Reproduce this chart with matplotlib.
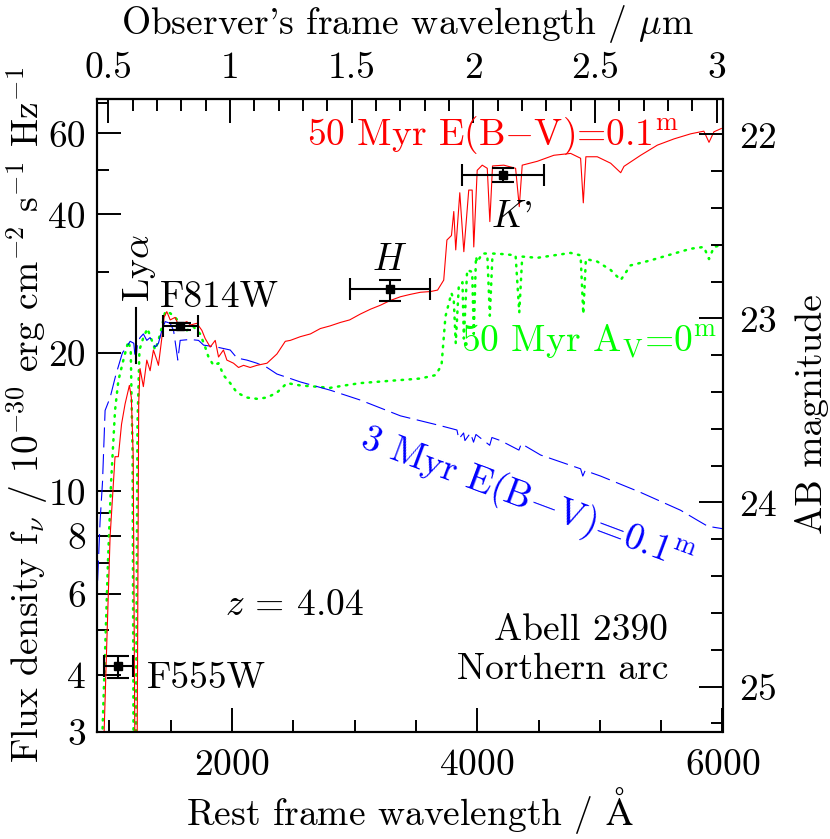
import numpy as np
import matplotlib
matplotlib.use('Agg')
import matplotlib.pyplot as plt
from matplotlib.ticker import FixedLocator, NullFormatter, FixedFormatter

plt.rcParams['font.family'] = ['cmr10', 'DejaVu Serif']
plt.rcParams['mathtext.fontset'] = 'cm'
plt.rcParams['axes.unicode_minus'] = False
plt.rcParams['axes.formatter.use_mathtext'] = True

Z = 4.04
AB_ZP = 26.44  # AB = AB_ZP - 2.5 log10(f / 1e-30 cgs)

# ---- model spectra (rest wavelength [A], flux density [1e-30 erg/cm2/s/Hz]) ----
red_wl = [925, 958, 980, 1007, 1047, 1074, 1100, 1129, 1164, 1180, 1195, 1212, 1225,
          1240, 1251, 1278, 1306, 1333, 1360, 1388, 1401, 1429, 1447, 1469, 1497, 1537,
          1564, 1633, 1660, 1714, 1755, 1782, 1823, 1864, 1891, 1931, 1959, 2013, 2054,
          2095, 2149, 2204, 2286, 2367, 2435, 2476, 2558, 2640, 2721, 2800, 2884, 2960,
          3047, 3130, 3211, 3290, 3374, 3450, 3537, 3620, 3677, 3727, 3753, 3790, 3809,
          3825, 3858, 3891, 3931, 3959, 3972, 4000, 4041, 4082, 4103, 4125, 4217, 4313,
          4343, 4367, 4490, 4625, 4762, 4843, 4865, 4886, 4979, 5088, 5170, 5197, 5333,
          5469, 5605, 5741, 5848, 5890, 5930, 5990]
red_f = [2.5, 3.0, 4.7, 8.0, 11.9, 11.9, 14.0, 15.5, 17.0, 16.0, 12.0, 2.0, 2.0,
         15.5, 18.5, 16.9, 19.3, 18.3, 20.3, 19.3, 18.8, 21.6, 23.9, 24.6, 23.6, 23.9,
         23.0, 23.4, 23.0, 23.2, 22.4, 21.5, 20.6, 21.3, 19.6, 20.3, 19.3, 19.0, 18.6,
         18.8, 18.6, 18.8, 19.0, 19.9, 21.2, 21.3, 21.7, 22.0, 22.6, 22.9, 23.3, 23.6,
         24.3, 24.9, 25.4, 26.0, 26.5, 26.8, 27.1, 27.2, 27.4, 28.8, 35.2, 36.0, 40.6,
         33.5, 44.6, 33.2, 45.2, 45.2, 34.0, 49.9, 51.2, 50.4, 38.6, 51.0, 51.2, 50.4,
         41.6, 51.2, 52.2, 53.8, 54.3, 53.0, 42.4, 53.4, 53.4, 51.7, 49.3, 50.9, 53.8,
         56.6, 58.4, 59.9, 60.7, 57.4, 60.5, 61.5]

green_wl = [935, 966, 990, 1015, 1047, 1074, 1115, 1155, 1175, 1190, 1200, 1215, 1230,
            1246, 1278, 1311, 1347, 1374, 1401, 1429, 1456, 1497, 1537, 1578, 1633, 1687,
            1741, 1782, 1809, 1850, 1891, 1931, 1986, 2041, 2122, 2204, 2286, 2367, 2449,
            2558, 2680, 2802, 2920, 3047, 3170, 3292, 3420, 3537, 3660, 3709, 3741, 3790,
            3809, 3825, 3850, 3880, 3891, 3918, 3959, 3972, 3990, 4000, 4041, 4082, 4103,
            4125, 4217, 4313, 4343, 4367, 4490, 4625, 4762, 4843, 4865, 4886, 4979, 5088,
            5170, 5250, 5415, 5605, 5741, 5848, 5890, 5930, 5990]
green_f = [2.5, 4.5, 7.1, 10.5, 15.0, 17.4, 19.3, 21.2, 20.3, 12.0, 2.0, 2.0, 14.0,
           20.3, 21.6, 22.6, 21.3, 20.3, 21.3, 22.8, 24.6, 24.4, 23.9, 23.2, 22.4, 22.8,
           22.0, 20.6, 19.6, 18.8, 19.0, 17.9, 17.2, 16.4, 16.0, 15.9, 16.0, 16.4, 17.2,
           17.0, 16.9, 16.8, 17.0, 17.2, 17.3, 17.4, 17.5, 17.6, 17.9, 18.8, 24.0, 27.0,
           26.0, 21.0, 28.0, 28.5, 21.5, 30.3, 30.0, 22.0, 32.4, 31.5, 32.9, 32.9, 24.1,
           32.9, 32.8, 32.6, 24.5, 32.4, 32.2, 32.6, 33.0, 32.6, 24.3, 32.0, 31.6, 30.3,
           28.8, 31.0, 31.8, 32.9, 33.7, 34.0, 32.0, 34.0, 34.3]

blue_wl = [905, 925, 945, 966, 1007, 1053, 1107, 1135, 1170, 1200, 1215, 1230, 1251,
           1278, 1306, 1333, 1374, 1401, 1429, 1456, 1497, 1524, 1545, 1559, 1578, 1660,
           1728, 1769, 1877, 1986, 2041, 2122, 2204, 2286, 2367, 2476, 2558, 2802, 3047,
           3374, 3700, 3835, 3850, 3889, 3900, 3945, 3970, 3990, 4102, 4120, 4190, 4340,
           4360, 4517, 4843, 4861, 4880, 5006, 5333, 5659, 5782, 5880, 6000]
blue_f = [6.4, 8.6, 10.5, 15.0, 16.0, 17.9, 20.0, 20.5, 21.2, 21.0, 19.0, 21.0, 21.6,
          22.0, 21.3, 21.6, 20.6, 21.0, 22.4, 23.4, 23.2, 22.4, 20.5, 19.3, 21.3, 21.4,
          21.3, 20.8, 20.6, 20.3, 19.5, 19.3, 19.0, 18.6, 18.0, 17.6, 17.3, 16.6, 15.8,
          14.6, 13.9, 13.6, 13.0, 13.4, 12.9, 13.4, 12.8, 13.3, 12.6, 13.1, 12.9, 12.3,
          12.7, 12.0, 11.2, 10.8, 11.1, 10.8, 9.95, 9.1, 8.7, 8.4, 8.3]

# ---- photometry ----
phot_names = ['F555W', 'F814W', 'H', "K'"]
phot_wl = [1074, 1580, 3289, 4211]
phot_wl_err = [120, 145, 330, 335]
phot_f = [4.17, 22.9, 27.5, 48.8]
phot_f_lo = [0.23, 0.5, 1.5, 1.7]
phot_f_hi = [0.22, 0.3, 1.3, 1.7]

lya_wl = 1216
lya_f = [19.0, 25.0]

xlim = (900, 6000)
ylim = (3.0, 71.3)
x_major = [2000, 4000, 6000]
x_minor = [1000, 1500, 2500, 3000, 3500, 4500, 5000, 5500]
y_major = [3, 4, 6, 8, 10, 20, 40, 60]
y_major_lbl = ['3', '4', '6', '8', '10', '20', '40', '60']
y_minor = [5, 7, 9, 30, 50, 70]
top_major = [0.5, 1, 1.5, 2, 2.5, 3]
top_major_lbl = ['0.5', '1', '1.5', '2', '2.5', '3']
top_minor = [round(0.5 + 0.1 * i, 2) for i in range(26)]
mag_major = [22, 23, 24, 25]
mag_minor = [round(21.8 + 0.2 * i, 1) for i in range(18)]

FS = 27
DPI = 100
W, H = 830, 839
fig = plt.figure(figsize=(W / DPI, H / DPI), dpi=DPI)
ax = fig.add_axes([97 / W, 1 - 732 / H, 625.5 / W, 633 / H])

ax.plot(red_wl, red_f, color='#ff0000', lw=0.8, zorder=3)
ax.plot(green_wl, green_f, color='#00ff00', lw=1.8, ls=(0, (0.6, 2.6)),
        dash_capstyle='round', zorder=2)
ax.plot(blue_wl, blue_f, color='#0000ff', lw=0.8, ls=(0, (18, 6)), zorder=2)

ax.errorbar(phot_wl, phot_f, xerr=phot_wl_err, yerr=[phot_f_lo, phot_f_hi],
            fmt='s', color='black', ms=6, elinewidth=1.5, capsize=8, capthick=1.5,
            zorder=5)
ax.plot([lya_wl, lya_wl], lya_f, color='black', lw=1.5, zorder=4)

ax.set_xscale('linear')
ax.set_yscale('log')
ax.set_xlim(*xlim)
ax.set_ylim(*ylim)

ax.xaxis.set_major_locator(FixedLocator(x_major))
ax.xaxis.set_minor_locator(FixedLocator(x_minor))
ax.xaxis.set_minor_formatter(NullFormatter())
ax.yaxis.set_major_locator(FixedLocator(y_major))
ax.yaxis.set_major_formatter(FixedFormatter(y_major_lbl))
ax.yaxis.set_minor_locator(FixedLocator(y_minor))
ax.yaxis.set_minor_formatter(NullFormatter())

for s in ax.spines.values():
    s.set_linewidth(1.5)

ax.tick_params(axis='both', which='major', direction='in', length=17, width=1.4,
               labelsize=FS)
ax.tick_params(axis='both', which='minor', direction='in', length=8.5, width=1.4)
ax.tick_params(axis='x', which='both', top=False, pad=12)
ax.tick_params(axis='y', which='both', right=False, pad=8)

# top axis: observer's frame wavelength in micron
sec = ax.secondary_xaxis('top', functions=(lambda l: l * (1 + Z) / 1e4,
                                           lambda m: m * 1e4 / (1 + Z)))
sec.xaxis.set_major_locator(FixedLocator(top_major))
sec.xaxis.set_major_formatter(FixedFormatter(top_major_lbl))
sec.xaxis.set_minor_locator(FixedLocator(top_minor))
sec.xaxis.set_minor_formatter(NullFormatter())
sec.tick_params(which='major', direction='in', length=17, width=1.4, labelsize=FS, pad=10)
sec.tick_params(which='minor', direction='in', length=8.5, width=1.4)
sec.spines['top'].set_linewidth(1.5)

# right axis: AB magnitude
axr = ax.twinx()
axr.set_ylim(AB_ZP - 2.5 * np.log10(ylim[0]), AB_ZP - 2.5 * np.log10(ylim[1]))
axr.yaxis.set_major_locator(FixedLocator(mag_major))
axr.yaxis.set_minor_locator(FixedLocator(mag_minor))
axr.yaxis.set_minor_formatter(NullFormatter())
axr.tick_params(which='major', direction='in', length=17, width=1.4, labelsize=FS, pad=12)
axr.tick_params(which='minor', direction='in', length=8.5, width=1.4)
for s in axr.spines.values():
    s.set_linewidth(1.5)

# axis titles placed in figure pixels
fig.text(408 / W, 1 - 24 / H, r"Observer's frame wavelength / $\mu$m", fontsize=FS,
         ha='center', va='center')
fig.text(410 / W, 1 - 811 / H, r'Rest frame wavelength / $\mathrm{\AA}$', fontsize=FS,
         ha='center', va='center')
fig.text(27 / W, 1 - 415 / H,
         r'Flux density f$_\nu$ / 10$^{-30}$ erg cm$^{-2}$ s$^{-1}$ Hz$^{-1}$',
         fontsize=FS, ha='center', va='center', rotation=90)
fig.text(812 / W, 1 - 414 / H, 'AB magnitude', fontsize=FS, ha='center', va='center',
         rotation=90)

T = ax.transAxes
ax.text(0.3357, 0.927, r'50 Myr E(B$-$V)=0.1$^{\rm m}$', color='#ff0000',
        fontsize=FS, transform=T, ha='left', va='baseline')
ax.text(0.582, 0.602, r'50 Myr A$_{\rm V}$=0$^{\rm m}$', color='#00ff00',
        fontsize=FS, transform=T, ha='left', va='baseline')
ax.text(0.6875, 0.3665, r'3 Myr E(B$-$V)=0.1$^{\rm m}$', color='#0000ff',
        fontsize=FS, transform=T, ha='center', va='center', rotation=-20.5,
        rotation_mode='anchor')
ax.text(0.1007, 0.6714, 'F814W', fontsize=FS, transform=T, ha='left', va='baseline')
ax.text(0.0687, 0.733, r'Ly$\alpha$', fontsize=FS, transform=T, ha='center',
        va='center', rotation=90)
ax.text(0.4684, 0.730, r'$H$', fontsize=FS, transform=T, ha='center', va='baseline')
ax.text(0.6635, 0.798, r"$K$'", fontsize=FS, transform=T, ha='center', va='baseline')
ax.text(0.2046, 0.1848, r'$z$ = 4.04', fontsize=FS, transform=T, ha='left', va='baseline')
ax.text(0.913, 0.145, 'Abell 2390', fontsize=FS, transform=T, ha='right', va='baseline')
ax.text(0.913, 0.0837, 'Northern arc', fontsize=FS, transform=T, ha='right', va='baseline')
ax.text(0.0799, 0.0695, 'F555W', fontsize=FS, transform=T, ha='left', va='baseline')

fig.savefig('out.png', dpi=DPI)
